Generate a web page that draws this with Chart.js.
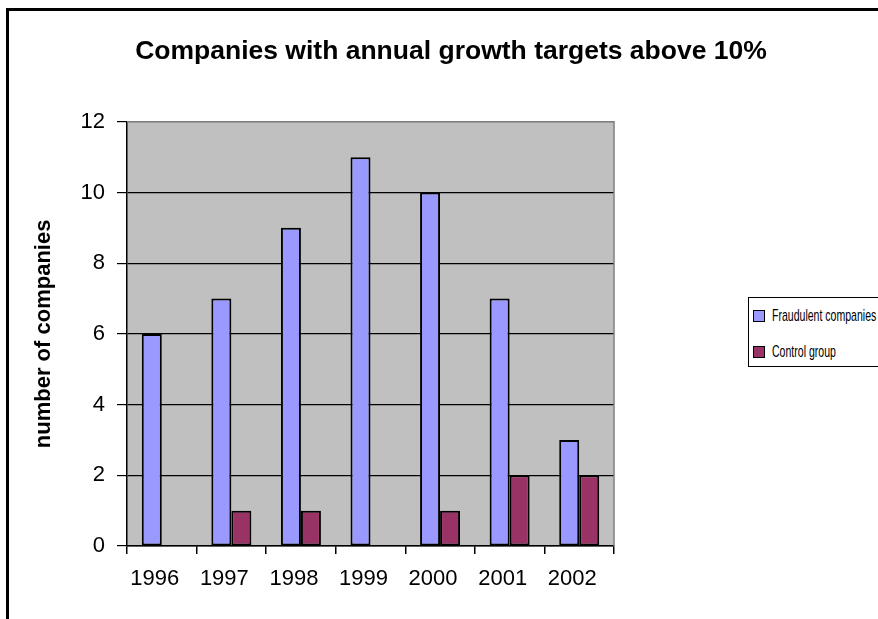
<!DOCTYPE html>
<html>
<head>
<meta charset="utf-8">
<script src="https://cdn.jsdelivr.net/npm/chart.js@4.4.1/dist/chart.umd.min.js"></script>
<style>
  html, body { margin: 0; padding: 0; background: #fff; overflow: hidden; }
  #wrap { position: relative; width: 878px; height: 619px; }
  #frame { position: absolute; left: 6px; top: 8px; width: 1000px; height: 1000px;
           border-left: 3px solid #000; border-top: 3px solid #000; z-index: 0; }
  #chart { position: absolute; left: 0; top: 0; z-index: 1; }
  #legend { position: absolute; left: 748px; top: 297px; width: 160px; height: 68px;
            border: 1.5px solid #000; background: #fff; z-index: 2;
            font-family: "Liberation Sans", Arial, sans-serif; font-size: 17px; color: #000; }
  #legend .item { position: absolute; left: 4px; height: 20px; line-height: 20px; white-space: nowrap; }
  #legend .box { position: absolute; left: 0; top: 4px; width: 10px; height: 10px; border: 1px solid #000; }
  #legend .txt { position: absolute; left: 19px; top: 0; display: inline-block;
                 transform: scaleX(0.62); transform-origin: 0 50%; }
</style>
</head>
<body>
<div id="wrap">
  <div id="frame"></div>
  <canvas id="chart" width="878" height="619"></canvas>
  <div id="legend"></div>
</div>
<script>
// values
const years = ['1996', '1997', '1998', '1999', '2000', '2001', '2002'];
const fraudulent = [6, 7, 9, 11, 10, 7, 3];
const control = [0, 1, 1, 0, 1, 2, 2];
const seriesNames = ['Fraudulent companies', 'Control group'];
const seriesColors = ['#9999FF', '#993366'];

const FONT = '"Liberation Sans", Arial, sans-serif';

// plot background + grey top/right border like Excel
const plotFrame = {
    id: 'plotFrame',
    beforeDraw(chart) {
        const { ctx, chartArea: a } = chart;
        ctx.save();
        ctx.fillStyle = '#C0C0C0';
        ctx.fillRect(a.left, a.top, a.right - a.left, a.bottom - a.top);
        ctx.restore();
    },
    afterDatasetsDraw(chart) {
        const { ctx, chartArea: a } = chart;
        ctx.save();
        ctx.strokeStyle = '#808080';
        ctx.lineWidth = 1.5;
        ctx.beginPath();
        ctx.moveTo(a.left, a.top);
        ctx.lineTo(a.right, a.top);
        ctx.lineTo(a.right, a.bottom);
        ctx.stroke();
        ctx.restore();
    }
};

const chart = new Chart(document.getElementById('chart'), {
    type: 'bar',
    data: {
        labels: years,
        datasets: [
            { label: seriesNames[0], data: fraudulent, backgroundColor: seriesColors[0] },
            { label: seriesNames[1], data: control, backgroundColor: seriesColors[1] }
        ].map(ds => ({
            ...ds,
            borderColor: '#000',
            borderWidth: 2,
            borderSkipped: false,
            categoryPercentage: 0.575,
            barPercentage: 1.0
        }))
    },
    options: {
        responsive: false,
        animation: false,
        layout: { padding: { left: 24, right: 0, top: 0, bottom: 0 } },
        plugins: {
            legend: { display: false },
            tooltip: { enabled: false },
            title: {
                display: true,
                text: 'Companies with annual growth targets above 10%',
                color: '#000',
                font: { family: FONT, size: 26.5, weight: 'bold' },
                padding: { top: 36, bottom: 54 }
            }
        },
        scales: {
            x: {
                grid: { offset: true, drawOnChartArea: false, tickLength: 8, tickColor: '#000', lineWidth: 1.5 },
                border: { color: '#000', width: 1.5 },
                ticks: { color: '#000', font: { family: FONT, size: 22 }, padding: 12, maxRotation: 0, labelOffset: -7 },
                afterFit: s => { s.height = 73; }
            },
            y: {
                min: 0,
                max: 12,
                ticks: { stepSize: 2, color: '#000', font: { family: FONT, size: 22 }, padding: 12 },
                grid: {
                    color: c => c.tick && c.tick.value === 12 ? '#808080' : '#000',
                    tickColor: '#000',
                    tickLength: 10,
                    lineWidth: 1.2
                },
                border: { color: '#000', width: 1.5 },
                title: {
                    display: true,
                    text: 'number of companies',
                    color: '#000',
                    font: { family: FONT, size: 22, weight: 'bold' },
                    padding: { top: 7, bottom: 0 }
                },
                afterFit: s => { s.width = 103; }
            },
            // empty right-hand axis that only reserves the legend space
            side: {
                type: 'linear',
                position: 'right',
                grid: { display: false },
                ticks: { display: false },
                border: { display: false },
                afterFit: s => { s.width = 264; }
            }
        }
    },
    plugins: [plotFrame]
});

// HTML legend built from the series names/colors
const legend = document.getElementById('legend');
seriesNames.forEach((name, i) => {
    const item = document.createElement('div');
    item.className = 'item';
    item.style.top = (8 + i * 36) + 'px';
    item.innerHTML = '<span class="box" style="background:' + seriesColors[i] + '"></span>' +
        '<span class="txt">' + name + '</span>';
    legend.appendChild(item);
});
</script>
</body>
</html>
